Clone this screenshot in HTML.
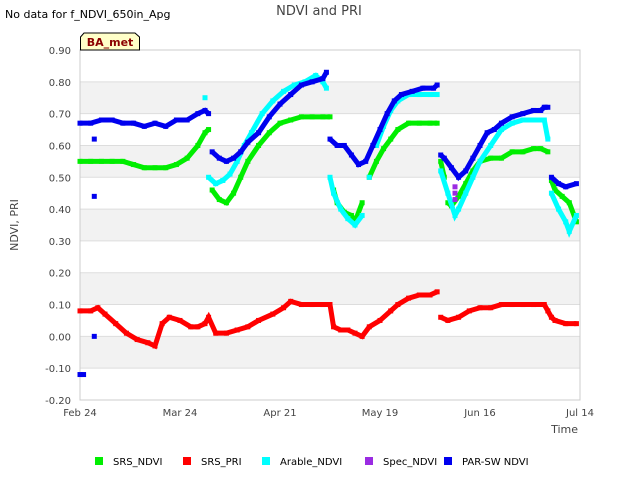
<!DOCTYPE html>
<html><head><meta charset="utf-8"><style>
body{margin:0;background:#fff;font-family:"Liberation Sans","DejaVu Sans",sans-serif}
svg text{font-family:"DejaVu Sans","Liberation Sans",sans-serif}
</style></head><body>
<svg id="chart" width="640" height="480" xmlns="http://www.w3.org/2000/svg">
<rect width="640" height="480" fill="#fff"/>
<text x="5" y="18" font-size="11" fill="#000">No data for f_NDVI_650in_Apg</text>
<text x="319" y="15" font-size="13" fill="#444" text-anchor="middle">NDVI and PRI</text>
<g id="bands"></g>
<g id="grid"></g>
<rect x="80" y="50" width="500" height="350" fill="none" stroke="#ccc"/>
<g id="yticks"></g><g id="xticks"></g>
<text x="18" y="225" font-size="11" fill="#444" text-anchor="middle" transform="rotate(-90 18 225)">NDVI, PRI</text>
<text x="578" y="433" font-size="11" fill="#444" text-anchor="end">Time</text>
<g id="series"></g>
<g>
<path d="M80.5,50 L80.5,37 L84,33 L135,33 L139.5,37 L139.5,50 Z" fill="#ffffc8" stroke="#000"/>
<text x="110" y="46" font-size="11" font-weight="bold" fill="#8b0000" text-anchor="middle">BA_met</text>
</g>
<g id="legend"></g>
</svg>
<script>
const yTicks=[-0.2,-0.1,0,0.1,0.2,0.3,0.4,0.5,0.6,0.7,0.8,0.9];
const xTickDays=[0,28,56,84,112,140];
const xTickLabels=["Feb 24","Mar 24","Apr 21","May 19","Jun 16","Jul 14"];
const srsNdviDays=[0,3,6,9,12,15,18,21,24,27,30,33,35,36,37,39,41,43,45,47,50,53,56,59,62,65,68,70,71,72,74,76,77,79,81,83,85,87,89,92,95,98,100,101,102,103,104,106,108,110,112,115,118,121,124,127,129,131,132,133,135,137,139];
const srsNdviVals=[0.55,0.55,0.55,0.55,0.55,0.54,0.53,0.53,0.53,0.54,0.56,0.6,0.64,0.65,0.46,0.43,0.42,0.45,0.5,0.55,0.6,0.64,0.67,0.68,0.69,0.69,0.69,0.69,0.46,0.42,0.39,0.38,0.36,0.42,0.5,0.55,0.59,0.62,0.65,0.67,0.67,0.67,0.67,0.55,0.5,0.42,0.41,0.44,0.48,0.52,0.55,0.56,0.56,0.58,0.58,0.59,0.59,0.58,0.49,0.46,0.44,0.42,0.36];
const srsPriDays=[0,3,5,7,10,13,16,19,21,23,25,28,31,33,35,36,38,41,44,47,50,54,57,59,62,65,68,70,71,73,75,77,79,81,84,87,89,92,95,98,100,101,103,106,109,112,115,118,121,124,127,130,131,132,133,136,139];
const srsPriVals=[0.08,0.08,0.09,0.07,0.04,0.01,-0.01,-0.02,-0.03,0.04,0.06,0.05,0.03,0.03,0.04,0.06,0.01,0.01,0.02,0.03,0.05,0.07,0.09,0.11,0.1,0.1,0.1,0.1,0.03,0.02,0.02,0.01,0.0,0.03,0.05,0.08,0.1,0.12,0.13,0.13,0.14,0.06,0.05,0.06,0.08,0.09,0.09,0.1,0.1,0.1,0.1,0.1,0.08,0.06,0.05,0.04,0.04];
const arableDays=[35,36,38,40,42,44,46,48,51,54,57,60,63,66,68,69,70,71,73,75,77,79,81,83,85,87,89,92,95,98,100,101,103,105,106,108,110,112,115,118,121,124,127,130,131,132,134,136,137,139];
const arableVals=[0.75,0.5,0.48,0.49,0.51,0.55,0.6,0.64,0.7,0.74,0.77,0.79,0.8,0.82,0.8,0.78,0.5,0.45,0.4,0.37,0.35,0.38,0.5,0.6,0.66,0.71,0.74,0.76,0.76,0.76,0.76,0.52,0.45,0.38,0.4,0.45,0.5,0.55,0.6,0.65,0.67,0.68,0.68,0.68,0.62,0.45,0.4,0.36,0.33,0.38];
const parDays=[0,3,6,9,12,15,18,21,24,27,30,33,35,36,37,39,41,43,45,47,50,53,56,59,62,65,68,69,70,72,74,76,78,80,82,84,86,88,90,93,96,99,100,101,102,104,106,108,110,112,114,116,118,121,124,127,129,130,131,132,134,136,139];
const parVals=[0.67,0.67,0.68,0.68,0.67,0.67,0.66,0.67,0.66,0.68,0.68,0.7,0.71,0.7,0.58,0.56,0.55,0.56,0.58,0.61,0.64,0.69,0.73,0.76,0.79,0.8,0.81,0.83,0.62,0.6,0.6,0.57,0.54,0.55,0.6,0.65,0.7,0.74,0.76,0.77,0.78,0.78,0.79,0.57,0.56,0.53,0.5,0.52,0.56,0.6,0.64,0.65,0.67,0.69,0.7,0.71,0.71,0.72,0.72,0.5,0.48,0.47,0.48];
const parOutDays=[4,4,0,1,4];
const parOutVals=[0.44,0.62,-0.12,-0.12,0.0];
const specDays=[105,105,105];
const specVals=[0.47,0.45,0.43];

const NS="http://www.w3.org/2000/svg";
const X=d=>80+d*500/140;
const Y=v=>400-(v+0.2)*350/1.1;
function mk(tag,attrs,parent){const e=document.createElementNS(NS,tag);for(const k in attrs)e.setAttribute(k,attrs[k]);parent.appendChild(e);return e;}
const bands=document.getElementById('bands');
[[0.7,0.8],[0.5,0.6],[0.3,0.4],[0.1,0.2],[-0.1,0]].forEach(b=>{
 const r=mk('rect',{x:80,y:Y(b[1]),width:500,height:Y(b[0])-Y(b[1]),fill:'#f2f2f2'},bands);
 
 
});
const grid=document.getElementById('grid'),yt=document.getElementById('yticks');
yTicks.forEach(t=>{
 const l=mk('line',{x1:80,x2:580,y1:Y(t),y2:Y(t),stroke:'#ddd'},grid);
 
 
 const tx=mk('text',{x:71,y:Y(t)+4,'font-size':10,fill:'#444','text-anchor':'end'},yt);
 tx.textContent=t.toFixed(2);
 
 
});
const xt=document.getElementById('xticks');
xTickDays.forEach((d,i)=>{
 const tx=mk('text',{x:X(d),y:416,'font-size':10,fill:'#444','text-anchor':'middle'},xt);
 tx.textContent=xTickLabels[i];
 
 
});
const ser=document.getElementById('series');
function draw(days,vals,color,name,line){
 const g=mk('g',{},ser);
 
 
 if(line){
  let pts=[];for(let i=0;i<days.length;i++){
   if(i>0&&Math.abs(vals[i]-vals[i-1])>0.08){mk('polyline',{points:pts.join(' '),fill:'none',stroke:color,'stroke-width':5},g);pts=[];}
   pts.push(X(days[i])+','+Y(vals[i]));}
  mk('polyline',{points:pts.join(' '),fill:'none',stroke:color,'stroke-width':5},g);
 }
 for(let i=0;i<days.length;i++){
  const r=mk('rect',{x:X(days[i])-2.5,y:Y(vals[i])-2.5,width:5,height:5,fill:color},g);
  
  
 }
}
draw(srsNdviDays,srsNdviVals,'#00ee00','srs-ndvi-series',true);
draw(srsPriDays,srsPriVals,'#ff0000','srs-pri-series',true);
draw(arableDays,arableVals,'#00ffff','arable-ndvi-series',true);
draw(parDays,parVals,'#0000ee','par-sw-ndvi-series',true);
draw(parOutDays,parOutVals,'#0000ee','par-sw-ndvi-outliers',false);
draw(specDays,specVals,'#9a2be2','spec-ndvi-series',false);
const lg=document.getElementById('legend');
[['SRS_NDVI','#00ee00',95],['SRS_PRI','#ff0000',183],['Arable_NDVI','#00ffff',262],['Spec_NDVI','#9a2be2',365],['PAR-SW NDVI','#0000ee',444]].forEach(e=>{
 const g=mk('g',{},lg);
 
 
 mk('rect',{x:e[2],y:457,width:8,height:8,fill:e[1]},g);
 const t=mk('text',{x:e[2]+18,y:465,'font-size':10,fill:'#000'},g);t.textContent=e[0];
});
</script>
</body></html>
